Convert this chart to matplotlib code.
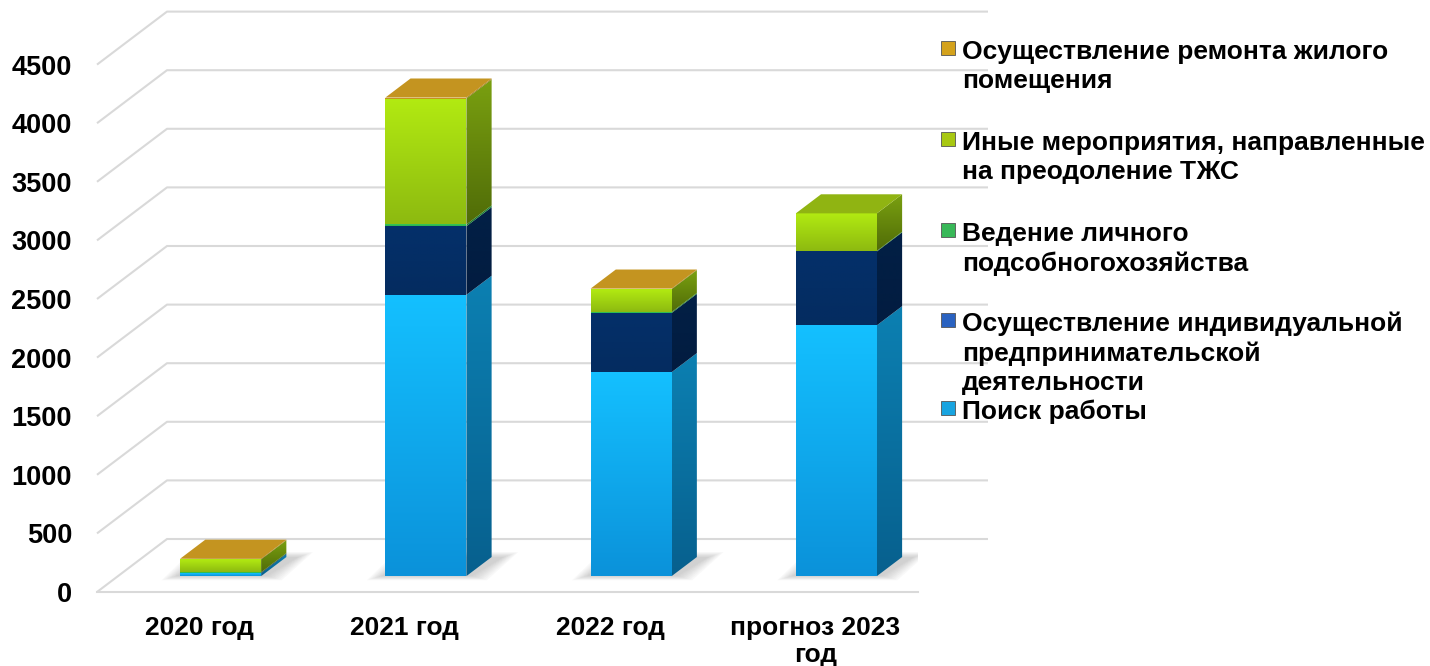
import matplotlib
matplotlib.use("Agg")
import matplotlib.pyplot as plt
from matplotlib.patches import Polygon, Rectangle
from matplotlib.colors import to_rgb
import numpy as np

plt.rcParams['font.family'] = ['Liberation Sans', 'DejaVu Sans']
plt.rcParams['font.weight'] = 'bold'

# data
years = ['2020 год', '2021 год', '2022 год', 'прогноз 2023\nгод']
poisk = [25, 2400, 1740, 2140]        # Поиск работы
ip = [5, 585, 505, 630]               # ИП
lph = [3, 15, 8, 5]                   # ЛПХ
inye = [110, 1075, 195, 320]          # иные мероприятия
remont = [5, 8, 5, 0]                 # ремонт жилого помещения

series = [poisk, ip, lph, inye, remont]
legend_labels = [
    'Осуществление ремонта жилого\nпомещения',
    'Иные мероприятия, направленные\nна преодоление ТЖС',
    'Ведение личного\nподсобногохозяйства',
    'Осуществление индивидуальной\nпредпринимательской\nдеятельности',
    'Поиск работы',
]
yticks = list(range(0, 5000, 500))

# colours: front top, front bottom, side top, side bottom, top face
styles = [
    ('#14c0ff', '#0b92da', '#0c80b2', '#07608e', '#14c0ff'),
    ('#04306a', '#042c60', '#022046', '#021c40', '#04306a'),
    ('#34c85a', '#2cb04c', '#1f8a3a', '#1a7430', '#34c85a'),
    ('#b2ea12', '#8dba10', '#7aa010', '#506c08', '#90b412'),
    ('#c89a22', '#c08f1e', '#a07a18', '#906c14', '#c49420'),
]
legend_colors = ['#d4a21c', '#a8c812', '#38b858', '#2a62c0', '#18a4e0']

W, H = 1430, 666
fig = plt.figure(figsize=(W / 100, H / 100), dpi=100)
ax = fig.add_axes([97 / W, 74 / H, 821 / W, 586 / H])
XMIN, XMAX, YMAX = -0.5, 3.5, 5000
px_x = 821 / (XMAX - XMIN)
px_y = 586 / YMAX
DX = 70 / px_x          # depth offset of back wall, data units
DY = 53 / px_y
F, B = 0.30, 0.66       # bar front / back depth fractions
BW = 0.395


def grad_fill(verts, c_top, c_bot, z):
    verts = np.asarray(verts)
    poly = Polygon(verts, closed=True, facecolor='none', edgecolor='none')
    ax.add_patch(poly)
    t = np.linspace(0, 1, 64)[:, None]
    ct, cb = np.array(to_rgb(c_top)), np.array(to_rgb(c_bot))
    img = (cb + (ct - cb) * t)[:, None, :].repeat(2, axis=1)
    im = ax.imshow(img, extent=[verts[:, 0].min(), verts[:, 0].max(),
                                verts[:, 1].min(), verts[:, 1].max()],
                   origin='lower', aspect='auto', zorder=z, interpolation='bilinear')
    im.set_clip_path(poly)


# gridlines: left wall diagonals + back wall
grid_c = '#d9d9d9'
for v in yticks:
    ax.plot([XMIN, XMIN + DX, XMAX + DX], [v, v + DY, v + DY],
            color=grid_c, lw=1.5, zorder=1, clip_on=False, solid_capstyle='butt')
ax.plot([XMIN, XMAX], [0, 0], color=grid_c, lw=1.5, zorder=1, clip_on=False)

# bars
for i in range(len(years)):
    x0 = i - BW / 2 + F * DX
    x1 = x0 + BW
    ox, oy = (B - F) * DX, (B - F) * DY
    base = F * DY
    # soft shadow on the floor
    for k in range(8):
        e = 0.010 * k
        ax.add_patch(Polygon([(x0 - 0.02 - e, base - 5 * k), (x1 + 0.03 + e, base - 5 * k),
                              (x1 + ox + 0.06 + e, base + oy + 6 * k),
                              (x0 + ox - e, base + oy + 6 * k)],
                             closed=True, facecolor='#707070', edgecolor='none',
                             alpha=0.045, zorder=2))
    bottom = base
    top_idx = max(j for j, s in enumerate(series) if s[i] > 0)
    for j, s in enumerate(series):
        val = s[i]
        if val <= 0:
            continue
        ft, fb, st, sb, tc = styles[j]
        y0, y1 = bottom, bottom + val
        grad_fill([(x1, y0), (x1 + ox, y0 + oy), (x1 + ox, y1 + oy), (x1, y1)], st, sb, 3)
        grad_fill([(x0, y0), (x1, y0), (x1, y1), (x0, y1)], ft, fb, 4)
        if j == top_idx:
            ax.add_patch(Polygon([(x0, y1), (x1, y1), (x1 + ox, y1 + oy), (x0 + ox, y1 + oy)],
                                 closed=True, facecolor=tc, edgecolor='none', zorder=5))
        bottom = y1

ax.set_xlim(XMIN, XMAX)
ax.set_ylim(0, YMAX)
for sp in ax.spines.values():
    sp.set_visible(False)
ax.set_yticks(yticks)
ax.set_yticklabels([str(v) for v in yticks], fontsize=19.5, fontweight='bold')
ax.set_xticks(range(len(years)))
ax.set_xticklabels(years, fontsize=19, fontweight='bold', linespacing=1.18)
ax.tick_params(axis='y', length=0, pad=18)
ax.tick_params(axis='x', length=0, pad=17)
ax.patch.set_visible(False)

# legend
leg_y = [50, 141, 232, 322, 410]
for lab, col, yy in zip(legend_labels, legend_colors, leg_y):
    fig.text(962 / W, 1 - (yy - 10) / H, lab, fontsize=19, fontweight='bold',
             va='top', ha='left', linespacing=1.27)
    fig.add_artist(Rectangle((941 / W, 1 - (yy + 5) / H), 14 / W, 14 / H,
                             transform=fig.transFigure, facecolor=col,
                             edgecolor='#555555', lw=0.6))

fig.savefig('out.png', dpi=100)
